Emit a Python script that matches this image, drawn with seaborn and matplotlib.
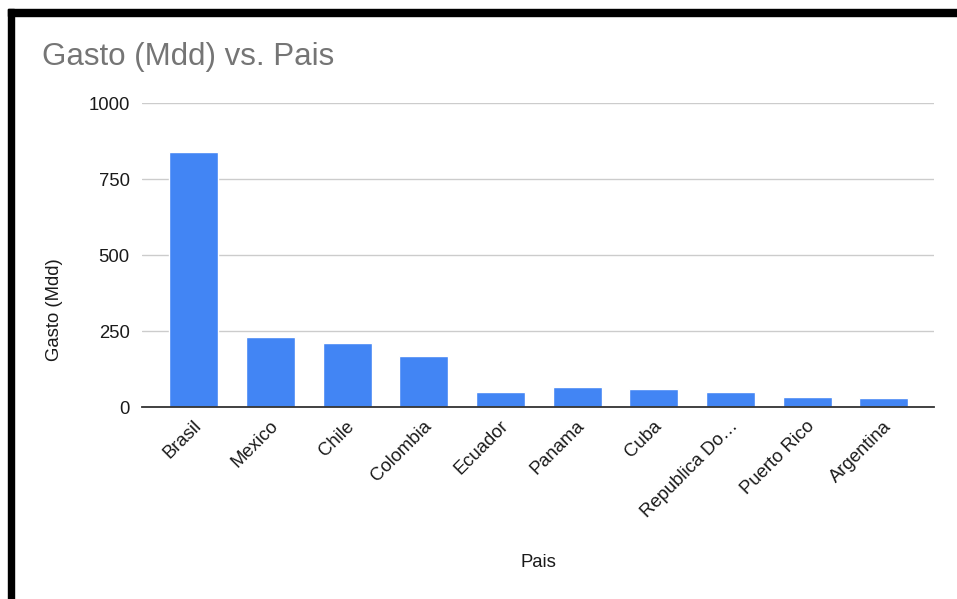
import matplotlib
matplotlib.use("Agg")
import matplotlib.pyplot as plt
import matplotlib.transforms as mtransforms
from matplotlib.patches import Rectangle
import seaborn as sns
import pandas as pd

# ---- data ----
paises = ["Brasil", "Mexico", "Chile", "Colombia", "Ecuador", "Panama",
          "Cuba", "Republica Do…", "Puerto Rico", "Argentina"]
gasto = [840, 231, 211, 169, 49, 65, 59, 49, 34, 29]
yticks = [0, 250, 500, 750, 1000]

df = pd.DataFrame({"Pais": paises, "Gasto (Mdd)": gasto})

sns.set_theme(style="white")
plt.rcParams["font.family"] = ["Liberation Sans", "DejaVu Sans"]

W, H = 957, 599
fig = plt.figure(figsize=(W / 100, H / 100), dpi=100)
fig.patch.set_facecolor("white")

left, right, top, bottom = 142, 934, 103, 407
ax = fig.add_axes([left / W, 1 - bottom / H, (right - left) / W, (bottom - top) / H])

sns.barplot(data=df, x="Pais", y="Gasto (Mdd)", color="#4285F4",
            saturation=1, width=0.64, ax=ax, zorder=3)

ax.set_ylim(0, 1000)
ax.set_xlim(-0.675, 9.656)
ax.set_yticks(yticks)
ax.set_yticklabels([str(v) for v in yticks])

for s in ["top", "right", "left"]:
    ax.spines[s].set_visible(False)
ax.spines["bottom"].set_color("#333333")
ax.spines["bottom"].set_linewidth(1.3)
ax.spines["bottom"].set_zorder(4)

ax.grid(axis="y", color="#cccccc", linewidth=1.0, zorder=0)
ax.set_axisbelow(True)

ax.tick_params(axis="y", length=0, pad=9, labelsize=13.3, labelcolor="#1a1a1a")
ax.tick_params(axis="x", length=0, pad=12, labelsize=13.3, labelcolor="#1a1a1a")

offset = mtransforms.ScaledTranslation(5 / 100, 0, fig.dpi_scale_trans)
for lab in ax.get_xticklabels():
    lab.set_rotation(45)
    lab.set_ha("right")
    lab.set_va("center")
    lab.set_rotation_mode("anchor")
    lab.set_transform(lab.get_transform() + offset)

ax.set_xlabel("Pais", fontsize=13.3, color="#1a1a1a")
ax.xaxis.set_label_coords(0.5, -0.51)
ax.xaxis.label.set_va("center")
ax.set_ylabel("Gasto (Mdd)", fontsize=13.3, color="#1a1a1a")
ax.yaxis.set_label_coords(-0.111, 0.319)
ax.yaxis.label.set_va("center")

fig.text(42 / W, 1 - 65 / H, "Gasto (Mdd) vs. Pais", fontsize=22.5,
         color="#757575", ha="left", va="baseline")

# black frame of the screenshot
fig.patches.append(Rectangle((8 / W, 1 - 16 / H), 1 - 8 / W, 7 / H,
                             transform=fig.transFigure, color="black", zorder=10))
fig.patches.append(Rectangle((8 / W, 0), 6 / W, 1 - 9 / H,
                             transform=fig.transFigure, color="black", zorder=10))

fig.savefig("out.png", dpi=100)
